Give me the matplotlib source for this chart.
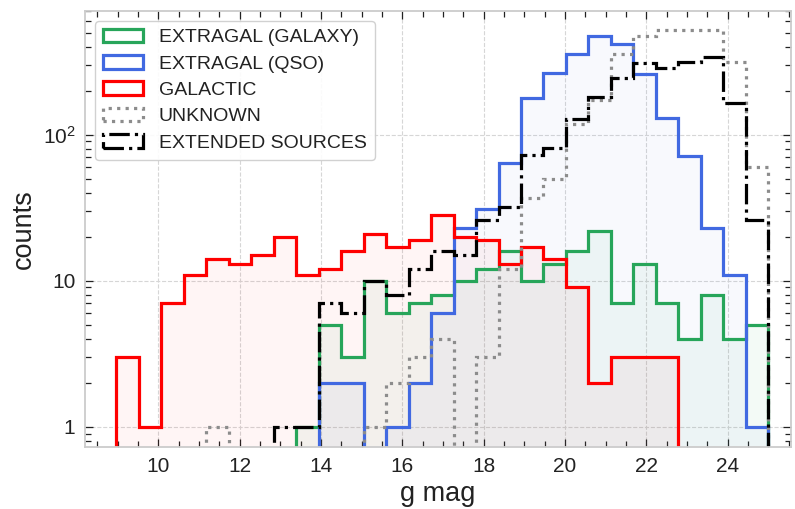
import numpy as np
import matplotlib
matplotlib.use("Agg")
import matplotlib.pyplot as plt
from matplotlib.ticker import MultipleLocator, FuncFormatter

plt.rcParams["font.family"] = ["Liberation Sans", "DejaVu Sans"]

# g-band magnitude histogram, 29 equal bins between 8.97 and 25.0
edges = np.linspace(8.97, 25.0, 30)

galaxy = [0, 0, 0, 0, 0, 0, 0, 0, 1, 5, 3, 10, 6, 7, 8, 10, 12, 16, 10, 13,
          16, 22, 7, 13, 7, 4, 8, 4, 5]
qso = [0, 0, 0, 0, 0, 0, 0, 0, 0, 2, 2, 0, 1, 2, 6, 23, 31, 64, 179, 265,
       356, 476, 418, 260, 131, 72, 23, 11, 1]
galactic = [3, 1, 7, 11, 14, 13, 15, 20, 11, 12, 16, 21, 17, 19, 28, 20, 19,
            13, 17, 14, 9, 2, 3, 3, 3, 0, 0, 0, 0]
unknown = [0, 0, 0, 0, 1, 0, 0, 0, 0, 0, 0, 1, 2, 3, 4, 0, 3, 12, 37, 50,
           118, 172, 356, 470, 520, 520, 520, 312, 60]
extended = [0, 0, 0, 0, 0, 0, 0, 1, 1, 7, 6, 10, 8, 12, 16, 15, 26, 32, 73,
            81, 128, 181, 246, 308, 286, 316, 340, 165, 26]

# label, counts, colour, linestyle, fill alpha (None = outline only)
series = [
    ("EXTRAGAL (GALAXY)", galaxy, "#27a55a", "-", 0.05),
    ("EXTRAGAL (QSO)", qso, "#4169e1", "-", 0.035),
    ("GALACTIC", galactic, "#ff0000", "-", 0.04),
    ("UNKNOWN", unknown, "#8c8c8c", ":", None),
    ("EXTENDED SOURCES", extended, "black", "-.", None),
]

fig = plt.figure(figsize=(7.95, 5.09), dpi=100)
ax = fig.add_axes([0.107, 0.122, 0.888, 0.856])

centres = 0.5 * (edges[:-1] + edges[1:])
for label, counts, color, ls, fa in series:
    if fa is not None:
        ax.hist(centres, bins=edges, weights=counts, histtype="stepfilled",
                color=color, alpha=fa, log=True, lw=0)
    ax.hist(centres, bins=edges, weights=counts, histtype="step",
            color=color, ls=ls, lw=2.3, log=True, label=label)

ax.set_xlim(8.2, 25.56)
ax.set_ylim(0.73, 700)

ax.xaxis.set_major_locator(MultipleLocator(2))
ax.xaxis.set_minor_locator(MultipleLocator(0.5))


def yfmt(v, pos):
    if abs(v - 1) < 1e-9:
        return "1"
    if abs(v - 10) < 1e-9:
        return "10"
    return r"$\mathregular{10^{%d}}$" % round(np.log10(v))


ax.yaxis.set_major_formatter(FuncFormatter(yfmt))

ax.tick_params(which="both", direction="in", top=True, right=True,
               colors="#222222", labelsize=15, width=0.9)
ax.tick_params(which="major", length=6, pad=7)
ax.tick_params(which="minor", length=4)
for sp in ax.spines.values():
    sp.set_color("#cccccc")
    sp.set_linewidth(1.3)

ax.grid(True, which="major", ls="--", color="#d6d6d6", lw=0.8)
ax.set_axisbelow(True)

ax.set_xlabel("g mag", fontsize=19.5, color="#222222", labelpad=4)
ax.set_ylabel("counts", fontsize=19.5, color="#222222", labelpad=4)

leg = ax.legend(loc="upper left", fontsize=14, frameon=True,
                fancybox=True, edgecolor="#cccccc", framealpha=0.9,
                handlelength=2.1, labelspacing=0.45)
for t in leg.get_texts():
    t.set_color("#222222")

fig.savefig("out.png", dpi=100)
